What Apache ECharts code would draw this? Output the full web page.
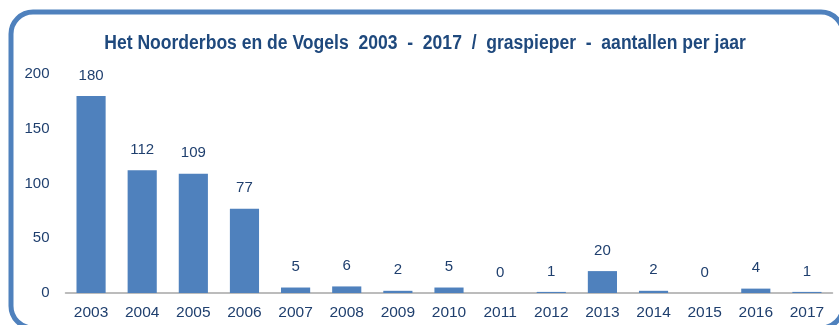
<!DOCTYPE html>
<html>
<head>
<meta charset="utf-8">
<style>
  html, body { margin: 0; padding: 0; background: #ffffff; }
  #chart { width: 839px; height: 325px; }
</style>
<script src="https://cdn.jsdelivr.net/npm/echarts@6/dist/echarts.min.js"></script>
</head>
<body>
<div id="chart"></div>
<script>
// Graspieper counts per year in Het Noorderbos
const years = ['2003','2004','2005','2006','2007','2008','2009','2010','2011','2012','2013','2014','2015','2016','2017'];
const counts = [180, 112, 109, 77, 5, 6, 2, 5, 0, 1, 20, 2, 0, 4, 1];
const yTicks = [0, 50, 100, 150, 200];
const titleText = 'Het Noorderbos en de Vogels  2003  -  2017  /  graspieper  -  aantallen per jaar';

const textColor = '#1F3F6E';
const baseFont = 'Liberation Sans, Arial, sans-serif';
const chart = echarts.init(document.getElementById('chart'));
chart.setOption({
  animation: false,
  backgroundColor: '#ffffff',
  graphic: [
    {
      // rounded frame around the whole chart
      type: 'rect',
      shape: { x: 11, y: 12, width: 832, height: 316, r: 22 },
      style: { fill: 'none', stroke: '#4F81BD', lineWidth: 5 },
      z: 100
    },
    {
      // condensed bold title
      type: 'text',
      x: 425,
      y: 44,
      scaleX: 0.9,
      style: {
        text: titleText,
        textAlign: 'center',
        textVerticalAlign: 'middle',
        fontFamily: baseFont,
        fontWeight: 'bold',
        fontSize: 19.5,
        fill: '#1F497D'
      }
    }
  ],
  grid: { left: 65.5, right: 6.5, top: 74, bottom: 32 },
  xAxis: {
    type: 'category',
    data: years,
    axisLine: { lineStyle: { color: '#A6A6A6', width: 1.5 } },
    axisTick: { show: false },
    axisLabel: {
      color: textColor,
      fontFamily: baseFont,
      fontSize: 15.5,
      margin: 12
    }
  },
  yAxis: {
    type: 'value',
    min: yTicks[0],
    max: yTicks[yTicks.length - 1],
    interval: 50,
    splitLine: { show: false },
    axisLine: { show: false },
    axisTick: { show: false },
    axisLabel: {
      color: textColor,
      fontFamily: baseFont,
      fontSize: 15,
      margin: 16
    }
  },
  series: [{
    type: 'bar',
    data: counts,
    barWidth: '57%',
    itemStyle: { color: '#4F81BD' },
    label: {
      show: true,
      position: 'top',
      distance: 13,
      color: textColor,
      fontFamily: baseFont,
      fontSize: 15
    }
  }]
});
</script>
</body>
</html>
